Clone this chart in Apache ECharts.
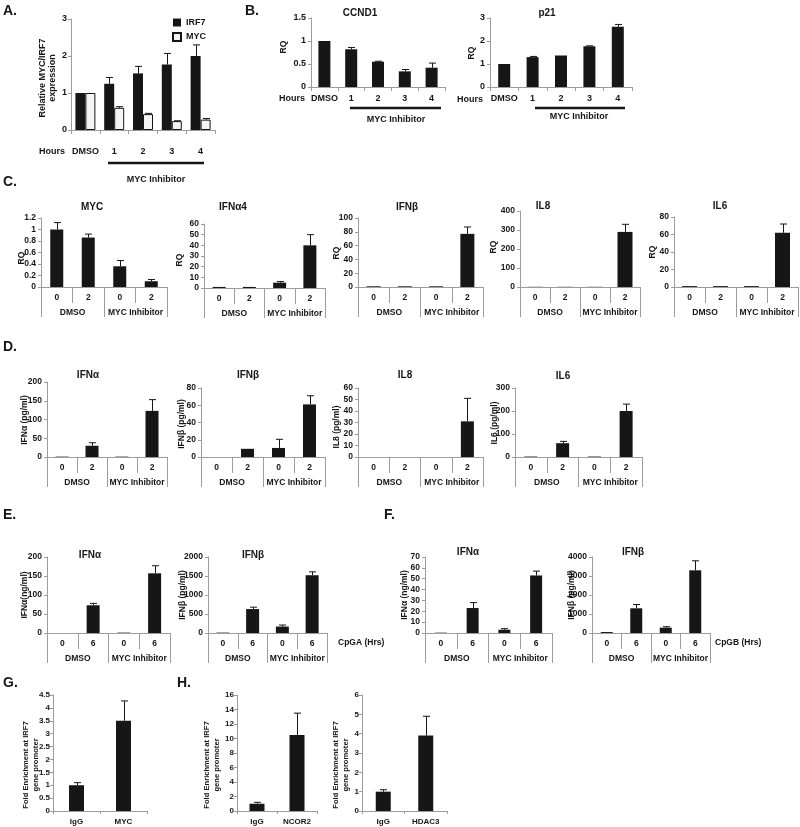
<!DOCTYPE html>
<html>
<head>
<meta charset="utf-8">
<script src="https://cdn.jsdelivr.net/npm/echarts@6.0.0/dist/echarts.min.js"></script>
<style>
  html, body { margin: 0; background: #fff; }
  #chart { width: 800px; height: 827px; }
</style>
</head>
<body>
<div id="chart"></div>
<script>
// ---- data ----
const hourCats = ['DMSO', '1', '2', '3', '4']
const irf7Rel = [1.0, 1.25, 1.53, 1.77, 2.0]
const irf7RelSd = [0, 0.17, 0.19, 0.30, 0.30]
const mycRel = [1.0, 0.60, 0.43, 0.24, 0.28]
const mycRelSd = [0, 0.03, 0.02, 0.01, 0.03]
const ccnd1Rq = [1.0, 0.82, 0.55, 0.34, 0.42]
const ccnd1Sd = [0, 0.04, 0.01, 0.04, 0.10]
const p21Rq = [1.0, 1.30, 1.37, 1.77, 2.62]
const p21Sd = [0, 0.03, 0.01, 0.02, 0.10]

const treatCats = ['0', '2', '0', '2']
const cpgCats = ['0', '6', '0', '6']
const groupCats = ['DMSO', 'MYC Inhibitor']

// C. transcript levels (RQ)
const cMyc = [1.0, 0.86, 0.36, 0.10]
const cMycSd = [0.12, 0.06, 0.10, 0.03]
const cIfna4 = [1, 1, 5, 40]
const cIfna4Sd = [0.2, 0.2, 1, 10]
const cIfnb = [1, 1, 1, 77]
const cIfnbSd = [0, 0, 0, 10]
const cIl8 = [1, 1, 1, 290]
const cIl8Sd = [0, 0, 0, 40]
const cIl6 = [1, 1, 1, 62]
const cIl6Sd = [0, 0, 0, 10]

// D. secreted protein (pg/ml)
const dIfna = [1, 30, 1, 123]
const dIfnaSd = [0, 8, 0, 30]
const dIfnb = [0, 9.5, 10.5, 61]
const dIfnbSd = [0, 0, 10, 10]
const dIl8 = [0, 0, 0, 31]
const dIl8Sd = [0, 0, 0, 20]
const dIl6 = [2, 60, 2, 200]
const dIl6Sd = [0, 8, 0, 30]

// E. CpGA, F. CpGB
const eIfna = [0, 73, 1, 157]
const eIfnaSd = [0, 5, 0, 20]
const eIfnb = [10, 630, 170, 1520]
const eIfnbSd = [0, 50, 40, 90]
const fIfna = [0.3, 23, 3, 53]
const fIfnaSd = [0, 5, 1, 4]
const fIfnb = [50, 1300, 280, 3300]
const fIfnbSd = [0, 200, 50, 500]

// G/H. ChIP fold enrichment
const gCats = ['IgG', 'MYC']
const gFold = [1.0, 3.5]
const gFoldSd = [0.1, 0.77]
const h1Cats = ['IgG', 'NCOR2']
const h1Fold = [1.0, 10.5]
const h1FoldSd = [0.2, 3.0]
const h2Cats = ['IgG', 'HDAC3']
const h2Fold = [1.0, 3.9]
const h2FoldSd = [0.1, 1.0]

// ---- chart ----
const chart = echarts.init(document.getElementById('chart'))
const FONT = '"Liberation Sans", Arial, sans-serif'
const INK = '#161616'
const AXIS = '#9c9c9c'

const grids = []
const xAxes = []
const yAxes = []
const series = []
const graphics = []

const errorBar = (shift) => (params, api) => {
  const base = api.coord([api.value(0), api.value(1)])
  const top = api.coord([api.value(0), api.value(2)])
  if (base[1] - top[1] < 0.3) return { type: 'group', children: [] }
  const x = Math.round(base[0] + shift) + 0.5
  const st = { stroke: INK, lineWidth: 1 }
  return {
    type: 'group',
    children: [
      { type: 'line', shape: { x1: x, y1: base[1], x2: x, y2: top[1] }, style: st },
      { type: 'line', shape: { x1: x - 3.5, y1: top[1], x2: x + 3.5, y2: top[1] }, style: st }
    ]
  }
}

const addPanel = (p) => {
  const fs = p.fs || 8.5
  const [left, top, width, height] = p.box
  const gi = grids.length
  grids.push({ left, top, width, height, containLabel: false, outerBoundsMode: 'none' })
  const xi = xAxes.length
  xAxes.push({
    type: 'category', gridIndex: gi, data: p.cats, position: 'bottom',
    axisLine: { show: true, lineStyle: { color: AXIS } },
    axisTick: { show: true, length: p.tickLen || 4, lineStyle: { color: AXIS } },
    axisLabel: { color: INK, fontFamily: FONT, fontWeight: 'bold', fontSize: fs, margin: p.catMargin || 6, interval: 0 },
    splitLine: { show: false }
  })
  const yi = yAxes.length
  yAxes.push({
    type: 'value', gridIndex: gi, min: 0, max: p.yMax, interval: p.yStep,
    axisLine: { show: true, lineStyle: { color: AXIS } },
    axisTick: { show: true, length: 3, lineStyle: { color: AXIS } },
    axisLabel: {
      color: INK, fontFamily: FONT, fontWeight: 'bold', fontSize: fs, margin: p.yMargin || 5,
      formatter: (v) => String(+v.toFixed(2))
    },
    splitLine: { show: false }
  })

  // second level of the category axis (DMSO / MYC Inhibitor)
  if (p.groups) {
    const g2 = grids.length
    grids.push({ left, top, width, height, containLabel: false, outerBoundsMode: 'none' })
    xAxes.push({
      type: 'category', gridIndex: g2, data: p.groups, position: 'bottom',
      axisLine: { show: false },
      axisTick: { show: true, length: 30, lineStyle: { color: AXIS } },
      axisLabel: { color: INK, fontFamily: FONT, fontWeight: 'bold', fontSize: fs, margin: 21, interval: 0 },
      splitLine: { show: false }
    })
    yAxes.push({ type: 'value', gridIndex: g2, min: 0, max: 1, show: false })
  }

  const n = p.bars.length
  p.bars.forEach((b, k) => {
    series.push({
      type: 'bar', name: b.name, xAxisIndex: xi, yAxisIndex: yi,
      data: b.values, barWidth: p.barWidth, barGap: '0%',
      itemStyle: b.fill
        ? { color: b.fill, borderColor: INK, borderWidth: 1 }
        : { color: INK, borderWidth: 0 },
      silent: true
    })
    const shift = (k - (n - 1) / 2) * p.barWidth
    series.push({
      type: 'custom', xAxisIndex: xi, yAxisIndex: yi, z: 3, silent: true,
      data: b.values.map((v, i) => [i, v, v + b.sd[i]]),
      renderItem: errorBar(shift)
    })
  })
}

const text = (str, x, y, opt = {}) => {
  graphics.push({
    type: 'text', x, y, rotation: opt.rot ? Math.PI / 2 : 0, silent: true,
    style: {
      text: str, fill: INK,
      font: `bold ${opt.fs || 9}px ${FONT}`,
      textAlign: opt.align || 'center', textVerticalAlign: 'middle',
      align: opt.align || 'center', verticalAlign: 'middle',
      lineHeight: opt.lh || 11
    }
  })
}
const underline = (x1, x2, y) => {
  graphics.push({ type: 'rect', silent: true, shape: { x: x1, y: y - 1.2, width: x2 - x1, height: 2.5 }, style: { fill: INK } })
}

// A
addPanel({
  box: [71, 19, 144, 111], cats: hourCats, yMax: 3, yStep: 1, barWidth: 10, fs: 9, catMargin: 17, yMargin: 4,
  bars: [
    { name: 'IRF7', values: irf7Rel, sd: irf7RelSd },
    { name: 'MYC', values: mycRel, sd: mycRelSd, fill: '#f4f4f4' }
  ]
})
// B
addPanel({ box: [311, 18, 134, 69], cats: hourCats, yMax: 1.5, yStep: 0.5, barWidth: 12, fs: 9, catMargin: 7,
  bars: [{ values: ccnd1Rq, sd: ccnd1Sd }] })
addPanel({ box: [490, 18, 142, 69], cats: hourCats, yMax: 3, yStep: 1, barWidth: 12, fs: 9, catMargin: 7,
  bars: [{ values: p21Rq, sd: p21Sd }] })
// C
const multi = { groups: groupCats, tickLen: 16, catMargin: 6 }
addPanel({ ...multi, box: [41, 218, 126, 69], cats: treatCats, yMax: 1.2, yStep: 0.2, barWidth: 13, bars: [{ values: cMyc, sd: cMycSd }] })
addPanel({ ...multi, box: [204, 224, 121, 64], cats: treatCats, yMax: 60, yStep: 10, barWidth: 13, bars: [{ values: cIfna4, sd: cIfna4Sd }] })
addPanel({ ...multi, box: [358, 218, 125, 69], cats: treatCats, yMax: 100, yStep: 20, barWidth: 14, bars: [{ values: cIfnb, sd: cIfnbSd }] })
addPanel({ ...multi, box: [520, 211, 120, 76], cats: treatCats, yMax: 400, yStep: 100, barWidth: 15, bars: [{ values: cIl8, sd: cIl8Sd }] })
addPanel({ ...multi, box: [674, 217, 124, 70], cats: treatCats, yMax: 80, yStep: 20, barWidth: 15, bars: [{ values: cIl6, sd: cIl6Sd }] })
// D
addPanel({ ...multi, box: [47, 382, 120, 75], cats: treatCats, yMax: 200, yStep: 50, barWidth: 13, bars: [{ values: dIfna, sd: dIfnaSd }] })
addPanel({ ...multi, box: [201, 388, 124, 69], cats: treatCats, yMax: 80, yStep: 20, barWidth: 13, bars: [{ values: dIfnb, sd: dIfnbSd }] })
addPanel({ ...multi, box: [358, 388, 125, 69], cats: treatCats, yMax: 60, yStep: 10, barWidth: 13, bars: [{ values: dIl8, sd: dIl8Sd }] })
addPanel({ ...multi, box: [515, 388, 127, 69], cats: treatCats, yMax: 300, yStep: 100, barWidth: 13, bars: [{ values: dIl6, sd: dIl6Sd }] })
// E
addPanel({ ...multi, box: [47, 557, 123, 76], cats: cpgCats, yMax: 200, yStep: 50, barWidth: 13, bars: [{ values: eIfna, sd: eIfnaSd }] })
addPanel({ ...multi, box: [208, 557, 119, 76], cats: cpgCats, yMax: 2000, yStep: 500, barWidth: 13, bars: [{ values: eIfnb, sd: eIfnbSd }] })
// F
addPanel({ ...multi, box: [425, 557, 127, 76], cats: cpgCats, yMax: 70, yStep: 10, barWidth: 12, bars: [{ values: fIfna, sd: fIfnaSd }] })
addPanel({ ...multi, box: [592, 557, 118, 76], cats: cpgCats, yMax: 4000, yStep: 1000, barWidth: 12, bars: [{ values: fIfnb, sd: fIfnbSd }] })
// G, H
const chip = { barWidth: 15, catMargin: 7, tickLen: 3, yMargin: 3, fs: 8 }
addPanel({ ...chip, box: [53, 695, 94, 116], cats: gCats, yMax: 4.5, yStep: 0.5, bars: [{ values: gFold, sd: gFoldSd }] })
addPanel({ ...chip, box: [237, 695, 80, 116], cats: h1Cats, yMax: 16, yStep: 2, bars: [{ values: h1Fold, sd: h1FoldSd }] })
addPanel({ ...chip, box: [362, 695, 85, 116], cats: h2Cats, yMax: 6, yStep: 1, bars: [{ values: h2Fold, sd: h2FoldSd }] })

// panel letters
;[['A.', 3, 11], ['B.', 245, 11], ['C.', 3, 182], ['D.', 3, 347], ['E.', 3, 515], ['F.', 384, 515], ['G.', 3, 683], ['H.', 177, 683]]
  .forEach(([s, x, y]) => text(s, x, y, { fs: 14, align: 'left' }))

// panel titles
;[['CCND1', 360, 13], ['p21', 547, 13],
  ['MYC', 92, 207], ['IFNα4', 233, 207], ['IFNβ', 407, 207], ['IL8', 543, 206], ['IL6', 720, 206],
  ['IFNα', 88, 375], ['IFNβ', 248, 375], ['IL8', 405, 375], ['IL6', 563, 376],
  ['IFNα', 90, 555], ['IFNβ', 253, 555], ['IFNα', 468, 552], ['IFNβ', 633, 552]]
  .forEach(([s, x, y]) => text(s, x, y, { fs: 10 }))

// y-axis titles
text('Relative MYC/IRF7\nexpression', 48, 78, { rot: true, fs: 9, lh: 10 })
;[['RQ', 284, 47], ['RQ', 472, 53],
  ['RQ', 22, 258], ['RQ', 180, 260], ['RQ', 337, 253], ['RQ', 494, 247], ['RQ', 653, 252],
  ['IFNα (pg/ml)', 25, 420], ['IFNβ (pg/ml)', 182, 424], ['IL8 (pg/ml)', 337, 427], ['IL6 (pg/ml)', 495, 423],
  ['IFNα(ng/ml)', 25, 595], ['IFNβ (pg/ml)', 183, 595], ['IFNα (ng/ml)', 405, 595], ['IFNβ (pg/ml)', 572, 595]]
  .forEach(([s, x, y]) => text(s, x, y, { rot: true, fs: 8.5 }))
;[31, 212, 341].forEach((x) => text('Fold Enrichment at IRF7\ngene promoter', x, 765, { rot: true, fs: 7.6, lh: 10.5 }))

// time-course annotations
text('Hours', 52, 152)
text('Hours', 292, 99)
text('Hours', 470, 100)
underline(108, 204, 163)
underline(350, 441, 108)
underline(535, 625, 108)
text('MYC Inhibitor', 156, 180)
text('MYC Inhibitor', 396, 120)
text('MYC Inhibitor', 579, 117)
text('CpGA (Hrs)', 338, 643, { fs: 8.5, align: 'left' })
text('CpGB (Hrs)', 715, 643, { fs: 8.5, align: 'left' })

chart.setOption({
  animation: false,
  backgroundColor: '#fff',
  legend: {
    data: ['IRF7', 'MYC'], orient: 'vertical', left: 167, top: 13,
    itemWidth: 8, itemHeight: 8, itemGap: 5, icon: 'rect', selectedMode: false,
    textStyle: { color: INK, fontFamily: FONT, fontWeight: 'bold', fontSize: 9 }
  },
  grid: grids,
  xAxis: xAxes,
  yAxis: yAxes,
  series,
  graphic: { elements: graphics }
})
</script>
</body>
</html>
